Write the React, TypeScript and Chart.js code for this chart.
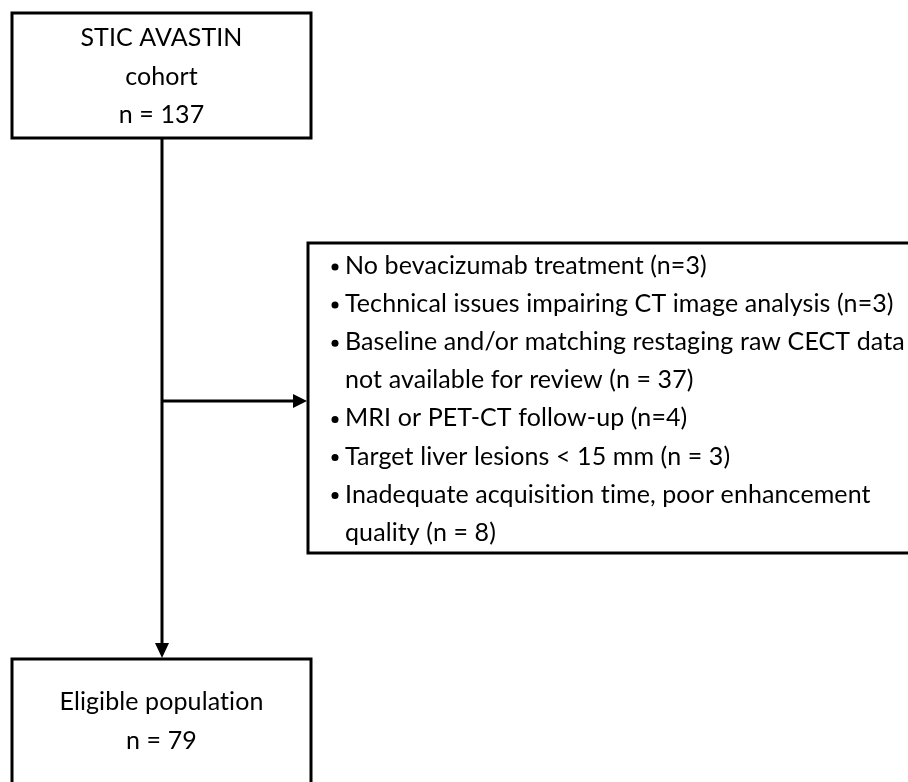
import React, { useEffect, useRef } from "react";
import { Chart, registerables } from "chart.js";

Chart.register(...registerables);

// ---- content ----
const topBoxLines: string[] = ["STIC AVASTIN", "cohort", "n = 137"];
const exclusionItems: string[][] = [
  ["No bevacizumab treatment (n=3)"],
  ["Technical issues impairing CT image analysis (n=3)"],
  ["Baseline and/or matching restaging raw CECT data", "not available for review (n = 37)"],
  ["MRI or PET-CT follow-up (n=4)"],
  ["Target liver lesions < 15 mm (n = 3)"],
  ["Inadequate acquisition time, poor enhancement", "quality (n = 8)"],
];
const bottomBoxLines: string[] = ["Eligible population", "n = 79"];

// ---- layout (in page pixel units via the chart scales) ----
const W = 908;
const H = 782;
const LAYOUT = {
  topBox: { x0: 12, y0: 13, x1: 311, y1: 138, firstLine: 38, step: 38.5 },
  exclBox: { x0: 308, y0: 243, x1: 930, y1: 553, firstLine: 266, step: 38.1, bulletX: 335, textX: 345 },
  bottomBox: { x0: 12, y0: 659, x1: 311, y1: 820, firstLine: 702, step: 38.5 },
  spineX: 162,
  branchY: 401,
  lineWidth: 3,
  font: "25px Lato, 'Noto Sans', sans-serif",
};

const flowPlugin = {
  id: "flow",
  afterDraw(chart: any) {
    const ctx: any = chart.ctx;
    const xs = chart.scales.x;
    const ys = chart.scales.y;
    const px = (v: number) => xs.getPixelForValue(v);
    const py = (v: number) => ys.getPixelForValue(v);
    const L = LAYOUT;
    ctx.save();
    ctx.strokeStyle = "#000";
    ctx.fillStyle = "#000";
    ctx.lineWidth = L.lineWidth;
    ctx.lineJoin = "miter";

    const rect = (b: { x0: number; y0: number; x1: number; y1: number }) => {
      ctx.strokeRect(px(b.x0), py(b.y0), px(b.x1) - px(b.x0), py(b.y1) - py(b.y0));
    };
    rect(L.topBox);
    rect(L.exclBox);
    rect(L.bottomBox);

    // spine
    const sx = px(L.spineX);
    ctx.beginPath();
    ctx.moveTo(sx, py(L.topBox.y1));
    ctx.lineTo(sx, py(L.bottomBox.y0) - 14);
    ctx.stroke();
    // vertical arrow head
    ctx.beginPath();
    ctx.moveTo(sx - 7, py(L.bottomBox.y0) - 16);
    ctx.lineTo(sx + 7, py(L.bottomBox.y0) - 16);
    ctx.lineTo(sx, py(L.bottomBox.y0) - 1);
    ctx.closePath();
    ctx.fill();

    // branch
    const by = py(L.branchY);
    ctx.beginPath();
    ctx.moveTo(sx, by);
    ctx.lineTo(px(L.exclBox.x0) - 12, by);
    ctx.stroke();
    ctx.beginPath();
    ctx.moveTo(px(L.exclBox.x0) - 15, by - 7);
    ctx.lineTo(px(L.exclBox.x0) - 15, by + 7);
    ctx.lineTo(px(L.exclBox.x0) - 1, by);
    ctx.closePath();
    ctx.fill();

    // texts
    ctx.font = L.font;
    if ("letterSpacing" in ctx) ctx.letterSpacing = "0.1px"; // avoids the "ti" ligature
    ctx.textBaseline = "middle";
    ctx.textAlign = "center";
    const cxTop = px((L.topBox.x0 + L.topBox.x1) / 2);
    topBoxLines.forEach((t, i) => ctx.fillText(t, cxTop, py(L.topBox.firstLine + i * L.topBox.step)));
    const cxBot = px((L.bottomBox.x0 + L.bottomBox.x1) / 2);
    bottomBoxLines.forEach((t, i) => ctx.fillText(t, cxBot, py(L.bottomBox.firstLine + i * L.bottomBox.step)));

    ctx.textAlign = "left";
    let line = 0;
    exclusionItems.forEach((item) => {
      item.forEach((t, j) => {
        const y = py(L.exclBox.firstLine + line * L.exclBox.step);
        if (j === 0) {
          ctx.beginPath();
          ctx.arc(px(L.exclBox.bulletX), y + 1, 3.5, 0, Math.PI * 2);
          ctx.fill();
        }
        ctx.fillText(t, px(L.exclBox.textX), y);
        line++;
      });
    });
    ctx.restore();
  },
};

export default function App() {
  const ref = useRef<HTMLCanvasElement | null>(null);
  useEffect(() => {
    if (!ref.current) return;
    const chart = new Chart(ref.current, {
      type: "scatter",
      data: { datasets: [{ data: [], pointRadius: 0 }] },
      options: {
        animation: false,
        responsive: false,
        events: [],
        layout: { padding: 0 },
        plugins: { legend: { display: false }, tooltip: { enabled: false } },
        scales: {
          x: { type: "linear", min: 0, max: W, display: false },
          y: { type: "linear", min: 0, max: H, reverse: true, display: false },
        },
      },
      plugins: [flowPlugin],
    });
    return () => chart.destroy();
  }, []);
  return (
    <div style={{ position: "absolute", left: 0, top: 0, width: W, height: H, background: "#fff", overflow: "hidden" }}>
      <canvas ref={ref} width={W} height={H} style={{ width: W, height: H, display: "block" }} />
    </div>
  );
}
